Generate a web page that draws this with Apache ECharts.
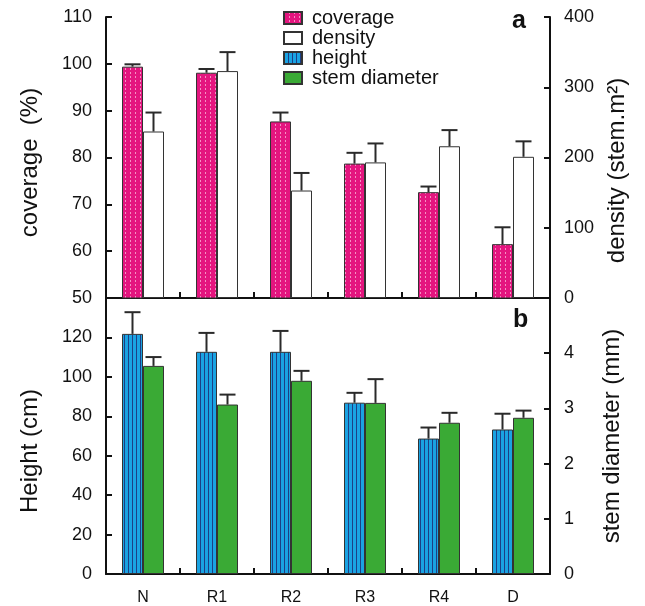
<!DOCTYPE html>
<html>
<head>
<meta charset="utf-8">
<script src="https://cdn.jsdelivr.net/npm/echarts@6/dist/echarts.min.js"></script>
<style>
  html, body { margin: 0; padding: 0; background: #fff; }
  #chart { width: 645px; height: 606px; }
</style>
</head>
<body>
<div id="chart"></div>
<script>
// sites
var categories = ['N', 'R1', 'R2', 'R3', 'R4', 'D'];

// panel a
var coverage = [99.4, 98.1, 87.7, 78.7, 72.6, 61.5];
var coverageErr = [0.5, 0.8, 1.9, 2.3, 1.2, 3.6];
var density = [237, 323, 153, 193, 216, 201];
var densityErr = [27, 27, 25, 27, 23, 22];

// panel b
var height = [121.8, 112.7, 112.7, 86.9, 68.7, 73.3];
var heightErr = [11, 9.6, 10.6, 5, 5.6, 8];
var diameter = [3.77, 3.07, 3.50, 3.10, 2.74, 2.83];
var diameterErr = [0.16, 0.18, 0.18, 0.43, 0.18, 0.13];

var BAR_W = 21;
var FONT = 'Liberation Sans, Arial, sans-serif';

// hatch fills
function stripes(base, line, w, h, dash) {
    var c = document.createElement('canvas');
    c.width = w;
    c.height = h;
    var ctx = c.getContext('2d');
    ctx.fillStyle = base;
    ctx.fillRect(0, 0, w, h);
    ctx.fillStyle = line;
    ctx.fillRect(0, 0, 1, dash);
    return c;
}
var pinkFill = { image: stripes('#e4157f', '#f590c4', 5, 4, 2), repeat: 'repeat' };
var blueFill = { image: stripes('#1aa3e2', '#1c3f86', 4, 4, 4), repeat: 'repeat' };

function errBars(name, vals, errs, xi, yi, side) {
    return {
        type: 'custom',
        name: name + ' err',
        xAxisIndex: xi,
        yAxisIndex: yi,
        z: 3,
        data: vals.map(function(v, i) { return [i, v, v + errs[i]]; }),
        encode: { x: 0, y: [1, 2] },
        renderItem: function(params, api) {
            var b = api.coord([api.value(0), api.value(1)]);
            var t = api.coord([api.value(0), api.value(2)]);
            var x = b[0] + side * BAR_W / 2;
            var st = { stroke: '#2a2a2a', lineWidth: 2 };
            return {
                type: 'group',
                children: [
                    { type: 'line', shape: { x1: x, y1: b[1], x2: x, y2: t[1] }, style: st },
                    { type: 'line', shape: { x1: x - 8, y1: t[1], x2: x + 8, y2: t[1] }, style: st }
                ]
            };
        }
    };
}

function valAxis(opt) {
    return {
        type: 'value',
        gridIndex: opt.grid,
        position: opt.pos,
        min: opt.min,
        max: opt.max,
        interval: opt.interval,
        name: opt.name,
        nameLocation: 'middle',
        nameRotate: 90,
        nameGap: opt.gap,
        nameTextStyle: { fontSize: 24, color: '#111', fontFamily: FONT, padding: [0, opt.shift || 0, 0, 0] },
        axisLine: { show: true, lineStyle: { color: '#111', width: 2 } },
        axisTick: { show: true, inside: true, length: 6, lineStyle: { color: '#111', width: 2 } },
        axisLabel: {
            fontSize: 18,
            color: '#111',
            fontFamily: FONT,
            margin: 14,
            formatter: function(v) { return opt.hide === v ? '' : v; }
        },
        splitLine: { show: false }
    };
}

function catAxis(grid, labels) {
    return {
        type: 'category',
        gridIndex: grid,
        data: categories,
        axisLine: { show: true, lineStyle: { color: '#111', width: 2 } },
        axisTick: { show: true, inside: true, length: 6, lineStyle: { color: '#111', width: 2 } },
        axisLabel: { show: labels, fontSize: 16, color: '#111', fontFamily: FONT, margin: 16 }
    };
}

var myChart = echarts.init(document.getElementById('chart'));
var option = {
    animation: false,
    grid: [
        { left: 106, right: 95, top: 17, height: 281 },
        { left: 106, right: 95, top: 298, height: 277 }
    ],
    legend: {
        data: ['coverage', 'density', 'height', 'stem diameter'],
        orient: 'vertical',
        left: 278,
        top: 3,
        itemWidth: 18,
        itemHeight: 12,
        itemGap: 0,
        icon: 'rect',
        textStyle: { fontSize: 20, lineHeight: 16, color: '#111', fontFamily: FONT, padding: [0, 0, 0, 5] }
    },
    xAxis: [catAxis(0, false), catAxis(1, true)],
    yAxis: [
        valAxis({ grid: 0, pos: 'left', min: 50, max: 110, interval: 10, name: 'coverage  (%)', gap: 64, shift: 10 }),
        valAxis({ grid: 0, pos: 'right', min: 0, max: 400, interval: 100, name: 'density (stem.m²)', gap: 50, shift: 26 }),
        valAxis({ grid: 1, pos: 'left', min: 0, max: 140, interval: 20, name: 'Height (cm)', gap: 64, hide: 140, shift: 30 }),
        valAxis({ grid: 1, pos: 'right', min: 0, max: 5, interval: 1, name: 'stem diameter (mm)', gap: 50, hide: 5 })
    ],
    series: [
        {
            name: 'coverage', type: 'bar', xAxisIndex: 0, yAxisIndex: 0,
            barWidth: BAR_W, barGap: '0%', data: coverage,
            itemStyle: { color: pinkFill, borderColor: '#333', borderWidth: 1 }
        },
        {
            name: 'density', type: 'bar', xAxisIndex: 0, yAxisIndex: 1,
            barWidth: BAR_W, barGap: '0%', data: density,
            itemStyle: { color: '#fff', borderColor: '#333', borderWidth: 1 }
        },
        {
            name: 'height', type: 'bar', xAxisIndex: 1, yAxisIndex: 2,
            barWidth: BAR_W, barGap: '0%', data: height,
            itemStyle: { color: blueFill, borderColor: '#333', borderWidth: 1 }
        },
        {
            name: 'stem diameter', type: 'bar', xAxisIndex: 1, yAxisIndex: 3,
            barWidth: BAR_W, barGap: '0%', data: diameter,
            itemStyle: { color: '#3aaa35', borderColor: '#333', borderWidth: 1 }
        },
        errBars('coverage', coverage, coverageErr, 0, 0, -1),
        errBars('density', density, densityErr, 0, 1, 1),
        errBars('height', height, heightErr, 1, 2, -1),
        errBars('stem diameter', diameter, diameterErr, 1, 3, 1)
    ],
    graphic: [
        { type: 'text', left: 512, top: 9, style: { text: 'a', font: 'bold 25px ' + FONT, fill: '#111' } },
        { type: 'text', left: 513, top: 308, style: { text: 'b', font: 'bold 25px ' + FONT, fill: '#111' } }
    ]
};
myChart.setOption(option);
</script>
</body>
</html>
